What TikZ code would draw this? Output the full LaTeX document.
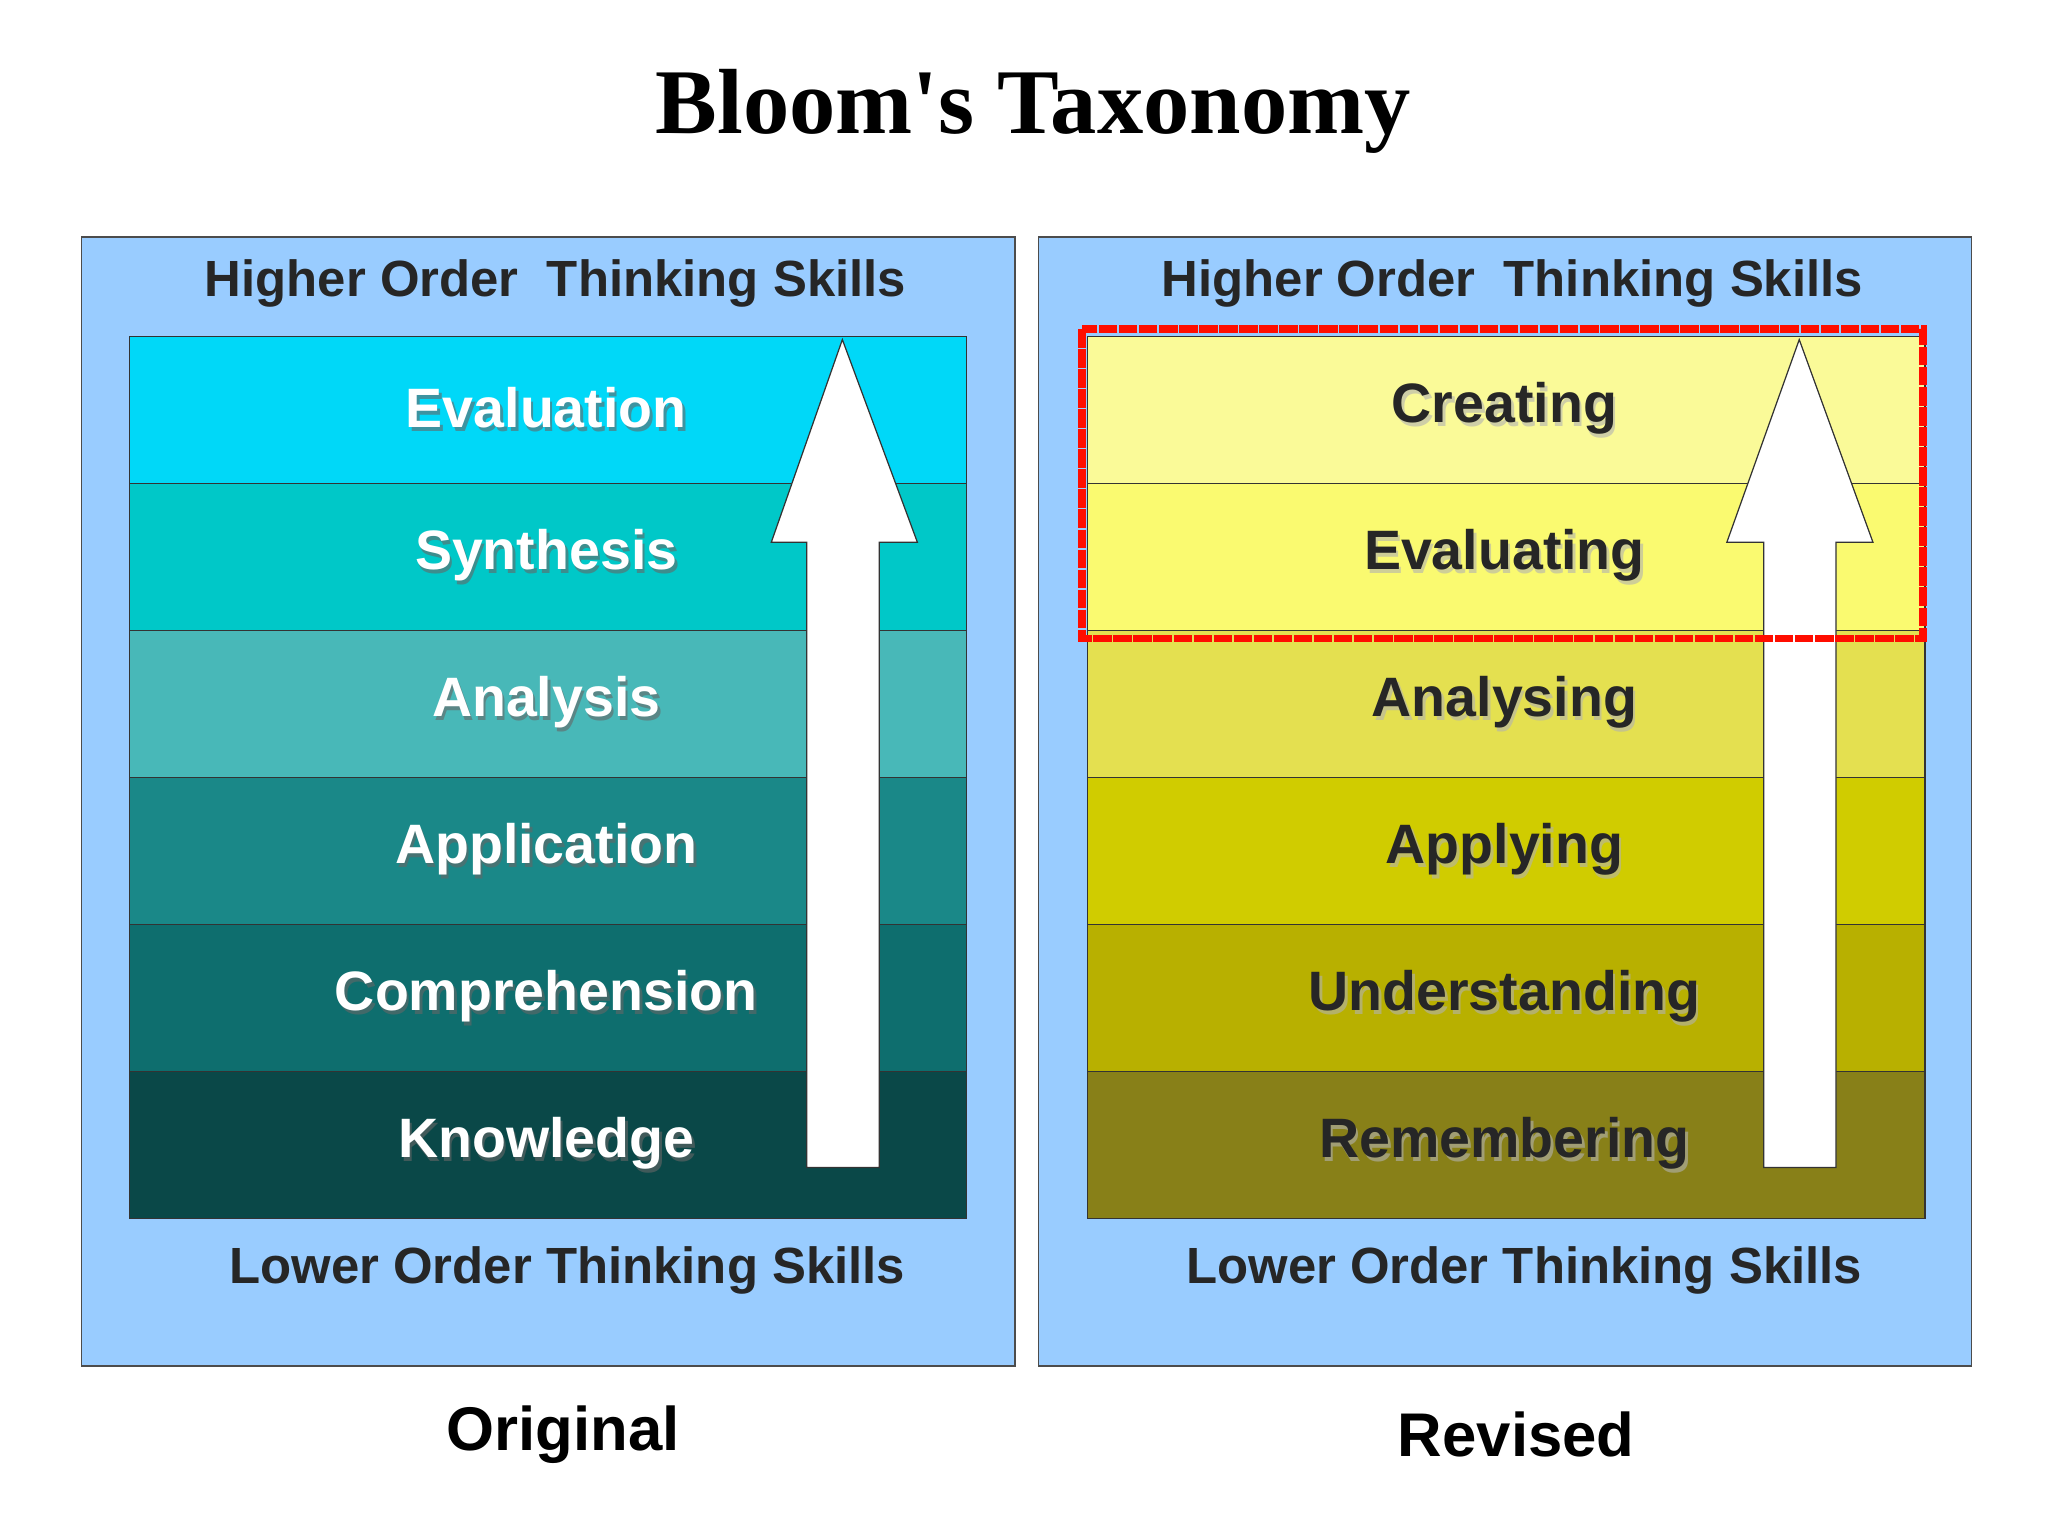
\documentclass[tikz,border=0pt]{standalone}
\usepackage{fontspec}
\setmainfont{Liberation Sans}
\newfontfamily\titlefont{Liberation Serif}
\begin{document}
\begin{tikzpicture}[x=0.03cm,y=-0.03cm,
  panel/.style={draw=black!70,line width=1pt,fill=blue!40!cyan!25!white},
  band/.style={draw=black!80,line width=0.8pt,minimum width=636*0.03cm,minimum height=111.7*0.03cm,inner sep=0pt,anchor=north west},
  lab/.style={font=\bfseries\fontsize{36}{40}\selectfont},
  hdr/.style={font=\bfseries\fontsize{33}{38}\selectfont,text=black!85},
  arr/.style={fill=white,draw=black!80,line width=0.8pt}]
\useasboundingbox (0,0) rectangle (1556,1168);
\definecolor{pbg}{HTML}{99CCFF}
\node[font=\titlefont\bfseries\fontsize{60}{66}\selectfont] (title) at (785,85) {Bloom's Taxonomy};
% left panel
\draw[panel,fill=pbg] (62,180) rectangle (771,1038);
\draw[panel,fill=pbg] (789,180) rectangle (1498,1038);
\node[hdr] (lh) at (422,215) {Higher Order\ \ Thinking Skills};
\node[hdr] (rh) at (1149,215) {Higher Order\ \ Thinking Skills};
\node[hdr] (ll) at (431,965) {Lower Order Thinking Skills};
\node[hdr] (rl) at (1158,965) {Lower Order Thinking Skills};
\foreach \n/\c [count=\i from 0] in {Evaluation/00D8F8,Synthesis/00C8C8,Analysis/48B8B8,Application/1A8888,Comprehension/0E6E6E,Knowledge/0A4848}{
  \definecolor{tmp}{HTML}{\c}
  \node[band,fill=tmp] (L\i) at (98,255+111.7*\i) {};
}
\foreach \n/\c [count=\i from 0] in {Creating/FAFA98,Evaluating/FAFA70,Analysing/E4E050,Applying/D0CC00,Understanding/B8B000,Remembering/888018}{
  \definecolor{tmp}{HTML}{\c}
  \node[band,fill=tmp] (R\i) at (826,255+111.7*\i) {};
}
\draw[arr] (613,887) -- (613,412) -- (586,412) -- (640,258) -- (697,412) -- (668,412) -- (668,887) -- cycle;
\draw[arr] (1340,887) -- (1340,412) -- (1312,412) -- (1367,258) -- (1423,412) -- (1395,412) -- (1395,887) -- cycle;
\foreach \n [count=\i from 0] in {Evaluation,Synthesis,Analysis,Application,Comprehension,Knowledge}{
  \node[lab,text=black!60,opacity=0.6] at (417,313+111.7*\i) {\n};
  \node[lab,text=white] (lt\i) at (415,310+111.7*\i) {\n};
}
\foreach \n [count=\i from 0] in {Creating,Evaluating,Analysing,Applying,Understanding,Remembering}{
  \node[lab,text=black!30,opacity=0.6] at (1145,313+111.7*\i) {\n};
  \node[lab,text=black!85] (rt\i) at (1143,310+111.7*\i) {\n};
}
\draw[red!90!orange,line width=5pt,dash pattern=on 12pt off 1pt] (822,250) rectangle (1461,485);
\node[font=\bfseries\fontsize{40}{44}\selectfont] (orig) at (428,1090) {Original};
\node[font=\bfseries\fontsize{40}{44}\selectfont] (rev) at (1152,1090) {Revised};
\end{tikzpicture}
\end{document}
